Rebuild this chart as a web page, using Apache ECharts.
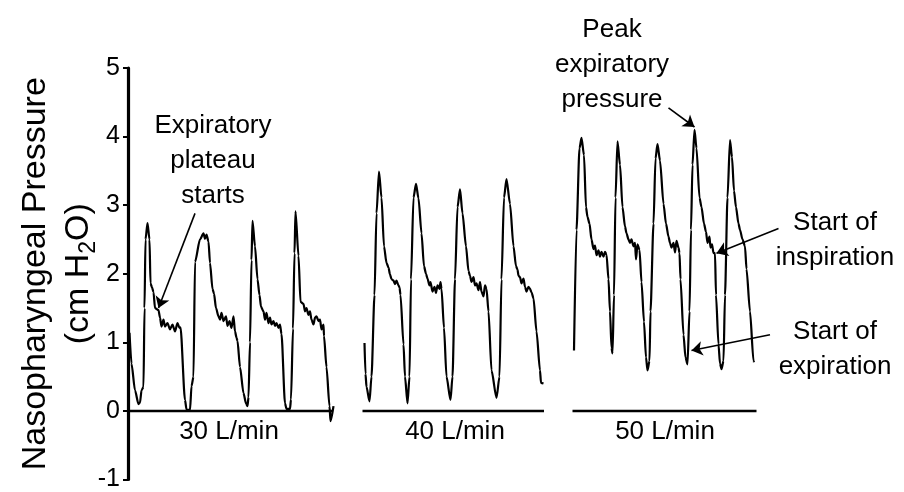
<!DOCTYPE html>
<html>
<head>
<meta charset="utf-8">
<script src="https://cdn.jsdelivr.net/npm/echarts@6/dist/echarts.min.js"></script>
<style>html,body{margin:0;padding:0;background:#fff}#c{width:904px;height:492px}</style>
</head>
<body>
<div id="c"></div>
<script>
// ---- data (time in s, pressure in cm H2O) ----
const yTicks = [-1, 0, 1, 2, 3, 4, 5];
const panelNames = ['30 L/min', '40 L/min', '50 L/min'];
const panelSpans = [[0, 4.1], [4.69, 8.32], [8.89, 12.57]];
const panelLabelPos = [[2.02, -0.31], [6.54, -0.31], [10.74, -0.31]];

const flow30 = [
[0.03,1.14],[0.07,0.69],[0.14,0.30],[0.21,0.10],[0.24,0.12],[0.27,0.30],[0.31,0.35],[0.33,1.5],[0.35,2.5],[0.39,2.74],
[0.43,2.5],[0.45,1.86],[0.48,1.80],[0.51,1.73],[0.54,1.5],[0.61,1.47],[0.64,1.36],[0.67,1.23],[0.71,1.33],[0.74,1.23],
[0.79,1.28],[0.84,1.19],[0.89,1.26],[0.94,1.16],[0.99,1.28],[1.03,1.21],[1.05,1.22],
[1.14,0.16],[1.17,0.02],[1.24,0.01],[1.27,0.36],[1.31,0.5],[1.34,2.17],[1.44,2.5],[1.51,2.59],[1.54,2.51],[1.57,2.57],[1.61,2.47],
[1.64,2.16],[1.69,1.78],[1.72,1.71],[1.76,1.5],[1.81,1.38],[1.84,1.33],[1.87,1.43],[1.91,1.31],[1.96,1.38],[1.99,1.24],
[2.03,1.31],[2.07,1.21],[2.11,1.38],[2.14,1.16],[2.17,1.07],[2.19,1.02],
[2.24,0.64],[2.31,0.26],[2.36,0.11],[2.39,0.07],[2.41,0.2],[2.44,1.0],[2.47,2.2],[2.49,2.77],
[2.54,2.4],[2.59,1.92],[2.63,1.69],[2.66,1.52],[2.71,1.45],[2.74,1.33],[2.77,1.43],[2.81,1.28],[2.84,1.36],[2.87,1.26],
[2.91,1.31],[2.94,1.24],[2.97,1.28],[3.01,1.21],[3.04,1.26],[3.07,1.12],
[3.14,0.11],[3.17,0.03],[3.24,0.03],[3.26,0.17],[3.30,1.2],[3.33,2.3],[3.35,2.91],
[3.41,2.26],[3.45,1.59],[3.51,1.56],[3.54,1.45],[3.57,1.5],[3.61,1.4],[3.64,1.45],[3.67,1.33],[3.71,1.26],[3.74,1.36],
[3.77,1.38],[3.81,1.31],[3.84,1.33],[3.87,1.19],[3.91,1.26],[3.92,1.09],
[3.97,0.64],[4.03,0.07],[4.05,-0.15],[4.11,0.07]
];

const flow40 = [
[4.73,0.99],[4.75,0.54],[4.77,0.35],[4.83,0.14],[4.87,0.5],[4.93,1.69],[4.97,2.88],[5.02,3.49],
[5.07,3.11],[5.12,2.4],[5.17,2.16],[5.21,2.09],[5.24,1.99],[5.27,1.92],[5.31,1.9],[5.34,1.85],[5.37,1.9],[5.41,1.83],[5.43,1.8],
[5.45,1.69],[5.51,0.97],[5.54,0.5],[5.59,0.11],[5.63,0.5],[5.66,1.92],[5.71,3.11],[5.76,3.31],
[5.81,3.1],[5.87,2.59],[5.92,2.11],[5.96,2.0],[5.99,1.93],[6.03,1.83],[6.05,1.88],[6.09,1.74],[6.13,1.81],[6.16,1.72],
[6.19,1.83],[6.23,1.78],[6.25,1.88],[6.27,1.78],
[6.32,1.21],[6.37,0.5],[6.45,0.16],[6.49,0.5],[6.54,1.92],[6.59,2.97],[6.64,3.23],
[6.69,2.88],[6.76,2.4],[6.81,2.04],[6.84,1.97],[6.87,1.88],[6.91,1.95],[6.94,1.83],[6.97,1.86],[7.01,1.76],[7.04,1.88],
[7.07,1.74],[7.11,1.67],[7.14,1.83],[7.17,1.78],
[7.21,1.45],[7.27,0.59],[7.37,0.19],[7.43,0.5],[7.47,1.92],[7.52,3.11],[7.57,3.38],
[7.64,3.02],[7.71,2.4],[7.76,2.11],[7.79,2.06],[7.81,1.97],[7.84,1.95],[7.87,1.86],[7.91,1.93],[7.94,1.81],[7.97,1.74],
[8.01,1.81],[8.04,1.78],[8.07,1.73],
[8.11,1.64],[8.17,1.16],[8.24,0.59],[8.26,0.41],[8.31,0.4]
];

const flow50 = [
[8.92,0.88],[8.97,2.64],[9.03,3.83],[9.07,3.98],
[9.12,3.73],[9.16,2.97],[9.19,2.83],[9.23,2.73],[9.27,2.5],[9.31,2.36],[9.34,2.41],[9.37,2.27],[9.41,2.34],[9.44,2.25],
[9.47,2.32],[9.51,2.25],[9.54,2.32],[9.57,2.28],
[9.61,1.92],[9.64,1.45],[9.67,0.92],[9.69,0.84],[9.72,1.69],[9.75,3.11],[9.79,3.93],
[9.84,3.59],[9.89,2.97],[9.94,2.69],[9.97,2.59],[10.01,2.5],[10.04,2.45],[10.07,2.5],[10.11,2.4],[10.14,2.45],[10.16,2.21],
[10.19,2.43],[10.23,2.35],
[10.27,1.88],[10.32,1.3],[10.36,0.78],[10.39,0.59],[10.43,0.73],[10.45,1.45],[10.51,2.73],[10.55,3.68],[10.59,3.89],
[10.64,3.65],[10.71,3.02],[10.76,2.73],[10.81,2.54],[10.84,2.45],[10.87,2.38],[10.91,2.45],[10.94,2.31],[10.97,2.48],
[11.01,2.38],[11.03,2.3],
[11.05,1.92],[11.11,1.11],[11.15,0.78],[11.19,0.68],[11.23,1.45],[11.26,2.64],[11.29,3.59],[11.33,4.1],
[11.37,3.83],[11.43,3.11],[11.47,2.97],[11.52,2.73],[11.56,2.61],[11.59,2.45],[11.63,2.54],[11.65,2.38],[11.68,2.43],
[11.71,2.3],[11.74,2.3],
[11.76,1.69],[11.81,0.97],[11.84,0.69],[11.87,0.61],[11.91,0.73],[11.94,1.69],[11.99,3.11],[12.04,3.95],
[12.08,3.7],[12.12,3.21],[12.16,2.97],[12.21,2.73],[12.24,2.64],[12.29,2.5],[12.34,2.4],
[12.37,2.07],[12.44,1.45],[12.51,0.73],[12.52,0.71]
];

const noteTexts = ['Expiratory\nplateau\nstarts', 'Peak\nexpiratory\npressure', 'Start of\ninspiration', 'Start of\nexpiration'];
const notePos = [[1.7, 3.64], [9.68, 5.04], [14.14, 2.49], [14.14, 0.90]];
const arrowFrom = [[1.34, 2.88], [10.81, 4.42], [13.01, 2.66], [12.84, 1.11]];
const arrowTo = [[0.61, 1.50], [11.33, 4.14], [11.77, 2.30], [11.27, 0.88]];

const xRange = [0, 15.52];

// ---- chart ----
const FONT = '"Liberation Sans", Arial, Helvetica, sans-serif';
const INK = '#000';
const chart = echarts.init(document.getElementById('c'), null, { renderer: 'canvas' });

const traceStyle = { color: INK, width: 2.2 };
const series = [];
[flow30, flow40, flow50].forEach((d, i) => {
  series.push({
    type: 'line', name: panelNames[i], data: d, showSymbol: false, symbol: 'none',
    smooth: 0.25, smoothMonotone: 'x',
    lineStyle: traceStyle, itemStyle: { color: INK }, silent: true, z: 3
  });
});
panelSpans.forEach((s, i) => {
  series.push({
    type: 'line', name: panelNames[i] + ' baseline', data: [[s[0], 0], [s[1], 0]],
    showSymbol: false, symbol: 'none', lineStyle: { color: INK, width: 2.5 }, silent: true, z: 2
  });
});
series.push({
  type: 'scatter', name: 'panel labels', clip: false, symbolSize: 0, silent: true,
  itemStyle: { opacity: 1, color: INK },
  data: panelNames.map((n, i) => ({ name: n, value: panelLabelPos[i] })),
  label: { show: true, position: 'inside', formatter: p => p.name, color: INK,
           fontFamily: FONT, fontSize: 26 }
});
series.push({
  type: 'scatter', name: 'annotations', clip: false, symbolSize: 0, silent: true,
  itemStyle: { opacity: 1, color: INK },
  data: noteTexts.map((n, i) => ({ name: n, value: notePos[i] })),
  label: { show: true, position: 'inside', formatter: p => p.name, color: INK,
           fontFamily: FONT, fontSize: 26, lineHeight: 35, align: 'center' },
  markLine: {
    silent: true, symbol: ['none', 'arrow'], symbolSize: 11, animation: false,
    itemStyle: { color: INK, opacity: 1 },
    lineStyle: { color: INK, width: 1.6, type: 'solid', opacity: 1 }, label: { show: false },
    emphasis: { disabled: true },
    data: arrowFrom.map((f, i) => [{ coord: f }, { coord: arrowTo[i] }])
  }
});

chart.setOption({
  animation: false,
  backgroundColor: '#fff',
  grid: { left: 128, right: 0, top: 68, bottom: 4, containLabel: false },
  xAxis: { type: 'value', min: xRange[0], max: xRange[1], show: false },
  yAxis: {
    type: 'value', min: yTicks[0], max: yTicks[yTicks.length - 1], interval: 1,
    axisLine: { show: true, onZero: false, lineStyle: { color: INK, width: 3.2 } },
    axisTick: { show: true, length: 5, lineStyle: { color: INK, width: 2 } },
    axisLabel: { color: INK, fontFamily: FONT, fontSize: 25, margin: 8 },
    splitLine: { show: false },
    name: '{a|Nasopharyngeal Pressure}\n{a|(cm H}{s|2}{a|O)}',
    nameLocation: 'middle', nameGap: 28, nameMoveOverlap: false,
    nameTextStyle: {
      color: INK, fontFamily: FONT, fontSize: 34, lineHeight: 43, align: 'center',
      rich: {
        a: { fontFamily: FONT, fontSize: 34, lineHeight: 43, color: INK },
        s: { fontFamily: FONT, fontSize: 23, lineHeight: 26, color: INK, verticalAlign: 'bottom' }
      }
    }
  },
  series: series
});
</script>
</body>
</html>
